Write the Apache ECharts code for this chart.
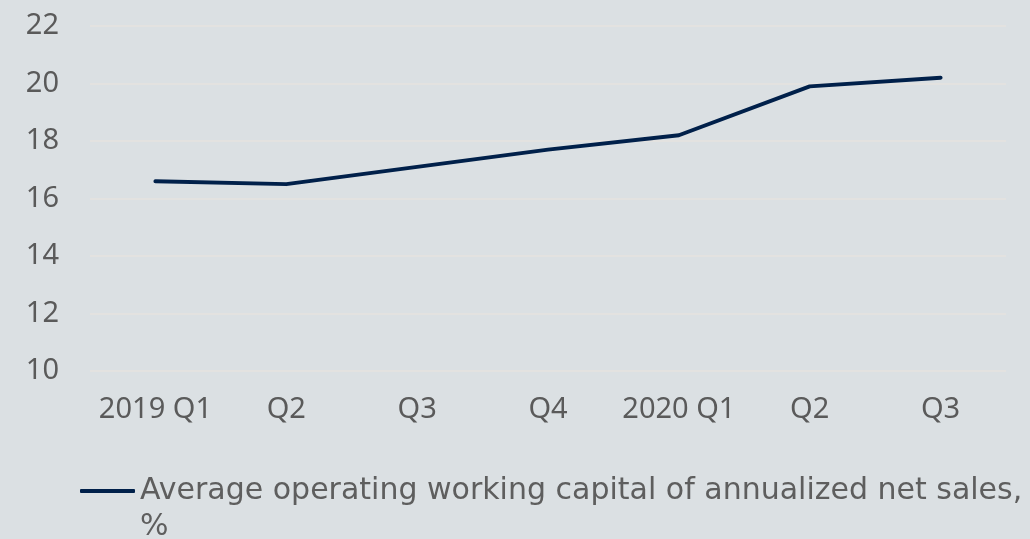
<!DOCTYPE html>
<html><head><meta charset="utf-8">
<script src="https://cdn.jsdelivr.net/npm/echarts@6/dist/echarts.min.js"></script>
<style>html,body{margin:0;padding:0;background:#dbe0e3;}#c{width:1030px;height:539px;}</style>
</head><body><div id="c"></div>
<script>
const categories = ['2019 Q1','Q2','Q3','Q4','2020 Q1','Q2','Q3'];
const seriesName = 'Average operating working capital of annualized net sales, %';
const values = [16.6, 16.5, 17.1, 17.7, 18.2, 19.9, 20.2];
const yTicks = {min: 10, max: 22, interval: 2};

const chart = echarts.init(document.getElementById('c'), null, {renderer: 'canvas'});
const font = '"Noto Sans", Lato, sans-serif';
chart.setOption({
  backgroundColor: '#dbe0e3',
  animation: false,
  grid: {left: 90, right: 24, top: 26, bottom: 168},
  legend: {
    left: 75, top: 432,
    icon: 'roundRect', itemWidth: 55, itemHeight: 4,
    formatter: n => ' \n' + n.replace(', %', ',\n%'),
    textStyle: {color: '#5e5e5e', fontSize: 30, fontFamily: '"DejaVu Sans", sans-serif', lineHeight: 36}
  },
  xAxis: {
    type: 'category', data: categories, boundaryGap: true,
    axisLine: {show: false}, axisTick: {show: false},
    axisLabel: {color: '#5a5a5a', fontSize: 29, fontFamily: font, margin: 24, interval: 0}
  },
  yAxis: {
    type: 'value', min: yTicks.min, max: yTicks.max, interval: yTicks.interval,
    axisLine: {show: false}, axisTick: {show: false},
    axisLabel: {color: '#5a5a5a', fontSize: 29, fontFamily: font, margin: 31},
    splitLine: {lineStyle: {color: '#e3e2e0', width: 2}}
  },
  series: [{
    name: seriesName, type: 'line', data: values,
    symbol: 'none', showSymbol: false,
    lineStyle: {color: '#00204a', width: 4, cap: 'round', join: 'round'},
    itemStyle: {color: '#00204a'}
  }]
});
</script></body></html>
